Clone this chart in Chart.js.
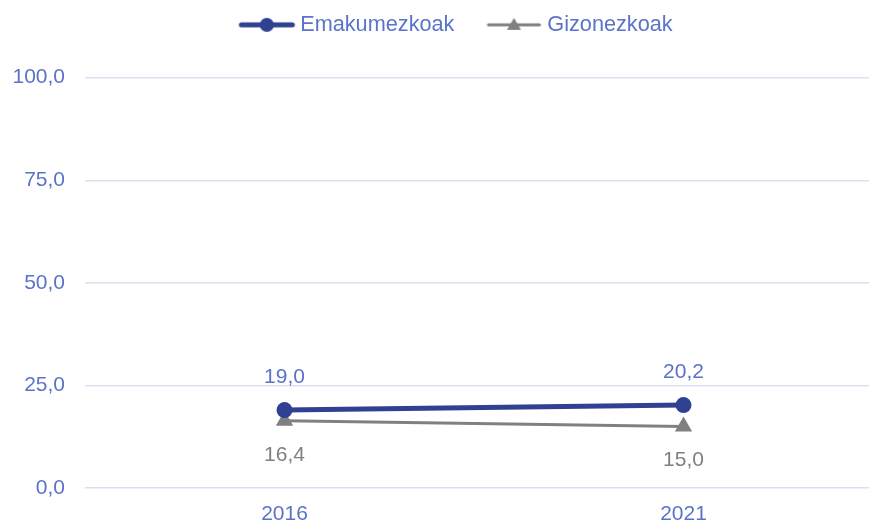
<!DOCTYPE html>
<html>
<head>
<meta charset="utf-8">
<script src="https://cdn.jsdelivr.net/npm/chart.js@4"></script>
<style>
  html, body { margin: 0; padding: 0; background: #fff; overflow: hidden; }
  #wrap { width: 869px; height: 524px; overflow: hidden; }
  #box { width: 893px; height: 524px; }
</style>
</head>
<body>
<div id="wrap"><div id="box"><canvas id="chart"></canvas></div></div>
<script>
var years = ['2016', '2021'];
var emakumezkoak = [19.0, 20.2];
var gizonezkoak = [16.4, 15.0];
var seriesNames = ['Emakumezkoak', 'Gizonezkoak'];
var yTicks = [0, 25, 50, 75, 100];

var blue = '#2f4190';
var textBlue = '#5b73c9';
var grey = '#808080';
var fontFam = '"Liberation Sans", Arial, sans-serif';

function fmt(v) {
  return v.toFixed(1).replace('.', ',');
}

// legend symbol: a line with the marker in its middle.
// box is 72 wide, image 100 wide centred on it; line runs box x 22..77
function legendIcon(color, lw, shape) {
  var c = document.createElement('canvas');
  c.width = 100; c.height = 20;
  var g = c.getContext('2d');
  var off = 14; // (100 - 72) / 2
  var x0 = off + 22, x1 = off + 77, mid = (x0 + x1) / 2;
  g.strokeStyle = color; g.fillStyle = color;
  g.lineWidth = lw; g.lineCap = 'round';
  g.beginPath(); g.moveTo(x0 + 2, 10); g.lineTo(x1 - 2, 10); g.stroke();
  g.beginPath();
  if (shape == 'circle') {
    g.arc(mid, 10, 7, 0, Math.PI * 2);
  } else {
    g.moveTo(mid, 3); g.lineTo(mid + 7, 15); g.lineTo(mid - 7, 15); g.closePath();
  }
  g.fill();
  return c;
}

var icons = [legendIcon(blue, 5, 'circle'), legendIcon(grey, 3, 'triangle')];

// extra room under the legend
var legendGap = {
  id: 'legendGap',
  beforeInit: function(chart) {
    var lg = chart.legend;
    var fit = lg.fit;
    lg.fit = function() {
      fit.call(this);
      this.height += 32;
    };
  }
};

var valueLabels = {
  id: 'valueLabels',
  afterDatasetsDraw: function(chart) {
    var ctx = chart.ctx;
    ctx.save();
    ctx.font = '21px ' + fontFam;
    ctx.textAlign = 'center';
    ctx.textBaseline = 'middle';
    chart.data.datasets.forEach(function(ds, i) {
      var meta = chart.getDatasetMeta(i);
      meta.data.forEach(function(pt, j) {
        ctx.fillStyle = i == 0 ? textBlue : grey;
        var dy = i == 0 ? -33 : 34;
        ctx.fillText(fmt(ds.data[j]), pt.x, pt.y + dy);
      });
    });
    ctx.restore();
  }
};

var ctx = document.getElementById('chart');
var myChart = new Chart(ctx, {
  type: 'line',
  data: {
    labels: years,
    datasets: [{
      label: seriesNames[0],
      data: emakumezkoak,
      borderColor: blue,
      backgroundColor: blue,
      borderWidth: 5,
      pointRadius: 8,
      pointStyle: 'circle',
      pointBackgroundColor: blue,
      pointBorderWidth: 0
    }, {
      label: seriesNames[1],
      data: gizonezkoak,
      borderColor: grey,
      backgroundColor: grey,
      borderWidth: 3,
      pointRadius: 10,
      pointStyle: 'triangle',
      pointBackgroundColor: grey,
      pointBorderWidth: 0
    }]
  },
  options: {
    responsive: true,
    maintainAspectRatio: false,
    animation: false,
    layout: { padding: { top: 4, left: 0, right: 3, bottom: 0 } },
    scales: {
      x: {
        offset: true,
        grid: { display: false },
        border: { display: false },
        ticks: {
          color: textBlue,
          padding: 6,
          font: { size: 21, family: fontFam }
        },
        afterFit: function(scale) { scale.height = 36; }
      },
      y: {
        min: 0,
        max: 100,
        afterBuildTicks: function(scale) {
          scale.ticks = yTicks.map(function(v) { return { value: v }; });
        },
        grid: { color: '#dcdff2', lineWidth: 1.5, tickLength: 0 },
        border: { display: false },
        ticks: {
          color: textBlue,
          padding: 20,
          font: { size: 21, family: fontFam },
          callback: function(v) { return fmt(v); }
        },
        afterFit: function(scale) { scale.width = 85; }
      }
    },
    plugins: {
      legend: {
        position: 'top',
        labels: {
          usePointStyle: true,
          pointStyleWidth: 72,
          color: textBlue,
          padding: 10,
          font: { size: 21.7, family: fontFam },
          generateLabels: function(chart) {
            return chart.data.datasets.map(function(ds, i) {
              return {
                text: ds.label,
                pointStyle: icons[i],
                fillStyle: ds.borderColor,
                strokeStyle: ds.borderColor,
                lineWidth: 0,
                fontColor: textBlue,
                datasetIndex: i
              };
            });
          }
        }
      },
      tooltip: { enabled: false }
    }
  },
  plugins: [legendGap, valueLabels]
});
</script>
</body>
</html>
